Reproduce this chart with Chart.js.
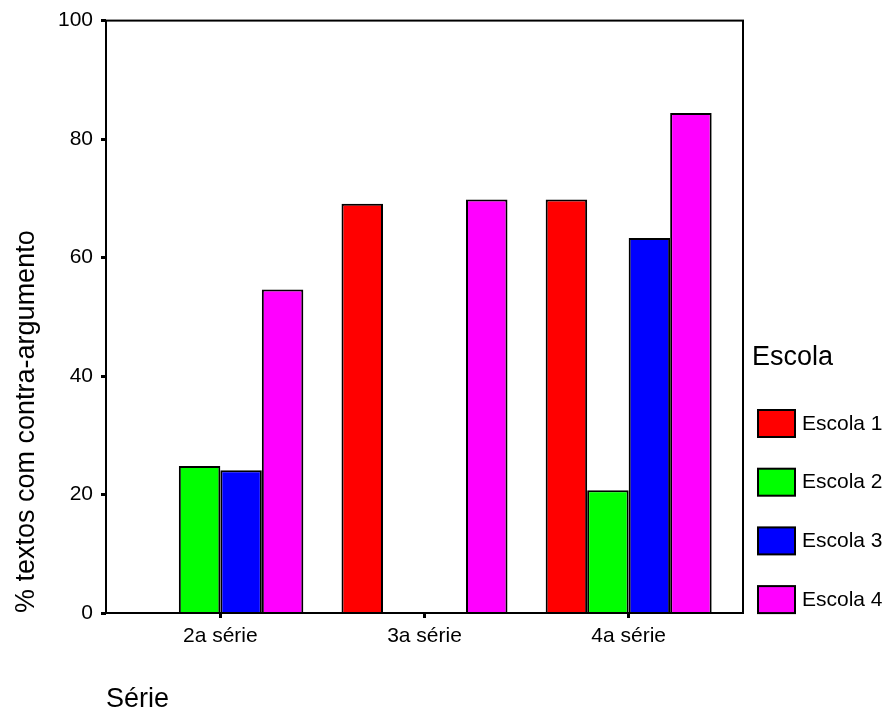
<!DOCTYPE html>
<html>
<head>
<meta charset="utf-8">
<script src="https://cdn.jsdelivr.net/npm/chart.js@4.4.0/dist/chart.umd.min.js"></script>
<style>
  body { margin: 0; background: #fff; }
  canvas { display: block; }
</style>
</head>
<body>
<canvas id="chart" width="886" height="712"></canvas>
<script>
/* ══════════════════════════════
   DATA
══════════════════════════════ */
const series = ['2a série', '3a série', '4a série'];
const escola1 = [0, 69.1, 69.8];
const escola2 = [24.8, 0, 20.7];
const escola3 = [24.1, 0, 63.3];
const escola4 = [54.6, 69.8, 84.4];
const yTicks = [0, 20, 40, 60, 80, 100];
const legendTitle = 'Escola';

const FONT = '"Liberation Sans", Arial, sans-serif';

// frame round the plot area
const frame = {
  id: 'frame',
  afterDatasetsDraw(chart) {
    const { ctx, chartArea: a } = chart;
    ctx.save();
    ctx.strokeStyle = '#000';
    ctx.lineWidth = 2;
    ctx.strokeRect(a.left, a.top, a.right - a.left, a.bottom - a.top);
    ctx.restore();
  }
};

// legend on the right, with its title
const sideLegend = {
  id: 'sideLegend',
  afterDraw(chart) {
    const { ctx, chartArea: a } = chart;
    const x = a.right + 9;
    ctx.save();
    ctx.textBaseline = 'middle';
    ctx.fillStyle = '#000';
    ctx.font = '27px ' + FONT;
    ctx.fillText(legendTitle, x, 358);
    ctx.font = '21px ' + FONT;
    chart.data.datasets.forEach((ds, i) => {
      const y = 410 + i * 58.7;
      ctx.fillStyle = ds.backgroundColor;
      ctx.fillRect(x + 6, y, 37, 27);
      ctx.strokeStyle = '#000';
      ctx.lineWidth = 2;
      ctx.strokeRect(x + 6, y, 37, 27);
      ctx.fillStyle = '#000';
      ctx.fillText(ds.label, x + 50, y + 14);
    });
    ctx.restore();
  }
};

// widen the category range a little so groups sit inside the frame
const EXTRA = 0.06;
function padCategories(axis) {
  axis._startValue = -0.5 - EXTRA;
  axis._valueRange = series.length + 2 * EXTRA;
}

function bars(label, data, color) {
  return {
    label,
    data,
    backgroundColor: color,
    borderColor: '#000',
    borderWidth: 2,
    categoryPercentage: 0.813,
    barPercentage: 1
  };
}

new Chart(document.getElementById('chart').getContext('2d'), {
  type: 'bar',
  data: {
    labels: series,
    datasets: [
      bars('Escola 1', escola1, '#ff0000'),
      bars('Escola 2', escola2, '#00ff00'),
      bars('Escola 3', escola3, '#0000ff'),
      bars('Escola 4', escola4, '#ff00ff')
    ]
  },
  options: {
    responsive: false,
    animation: false,
    layout: { padding: { left: 4, right: 143, top: 20, bottom: 0 } },
    plugins: {
      legend: { display: false },
      tooltip: { enabled: false }
    },
    scales: {
      x: {
        offset: true,
        border: { display: false },
        grid: {
          offset: false,
          drawOnChartArea: false,
          tickLength: 5,
          tickWidth: 3,
          color: '#000'
        },
        ticks: { font: { family: FONT, size: 21 }, color: '#000', padding: 6, maxRotation: 0 },
        title: {
          display: true,
          text: 'Série',
          align: 'start',
          color: '#000',
          font: { family: FONT, size: 27, lineHeight: 0.9 },
          padding: { top: 0, bottom: 0 }
        },
        afterBuildTicks: padCategories,
        afterUpdate: padCategories,
        afterFit: s => { s.height = 99; }
      },
      y: {
        min: 0,
        max: 100,
        border: { display: false },
        grid: {
          drawOnChartArea: false,
          tickLength: 5,
          tickWidth: 3,
          color: '#000'
        },
        afterBuildTicks: s => { s.ticks = yTicks.map(v => ({ value: v })); },
        ticks: { font: { family: FONT, size: 21 }, color: '#000', padding: 8 },
        title: {
          display: true,
          text: '% textos com contra-argumento',
          align: 'start',
          color: '#000',
          font: { family: FONT, size: 27 },
          padding: { top: 6, bottom: 0 }
        },
        afterFit: s => { s.width = 102; }
      }
    }
  },
  plugins: [frame, sideLegend]
});
</script>
</body>
</html>
